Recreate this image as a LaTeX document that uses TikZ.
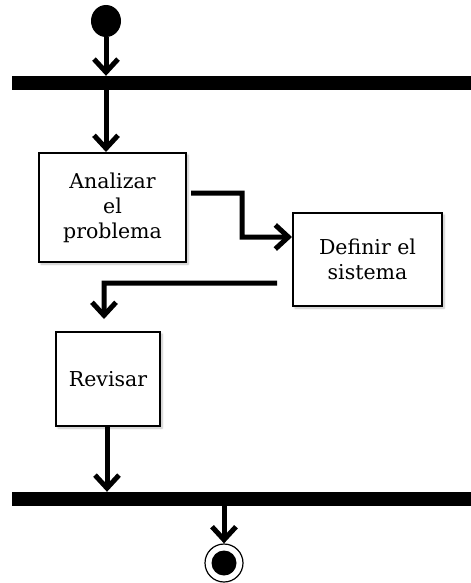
\documentclass[tikz,border=0pt]{standalone}
\usepackage{fontspec}
\setmainfont{DejaVu Serif}
\usetikzlibrary{arrows.meta,shadows.blur,shapes.geometric}
\begin{document}
\begin{tikzpicture}[x=1bp,y=-1bp,
  flow/.style={line width=5bp,line join=miter,
    -{Straight Barb[length=13bp,width=24bp,line width=5bp]}},
  actbox/.style={draw,line width=2bp,fill=white,
    blur shadow={shadow xshift=2bp,shadow yshift=-2bp,shadow opacity=25,shadow blur steps=6},
    align=center,font=\fontsize{20.5bp}{25bp}\selectfont,inner sep=0pt},
  syncbar/.style={fill=black,inner sep=0pt,minimum height=14bp,minimum width=459bp},
  ]
\useasboundingbox (0,0) rectangle (471,583);
% initial and final states
\node[ellipse,fill=black,minimum width=30bp,minimum height=32bp,inner sep=0pt] (start) at (106,21) {};
\node[circle,draw,line width=1.2bp,minimum size=38bp,inner sep=0pt] (end) at (224,563) {};
\node[circle,fill=black,minimum size=25bp,inner sep=0pt] (endin) at (224,563) {};
% fork / join bars
\node[syncbar] (bar1) at (241.5,83) {};
\node[syncbar] (bar2) at (241.5,499) {};
% activities
\node[actbox,minimum width=147bp,minimum height=109bp] (box1) at (112.5,207.5) {Analizar\\el\\problema};
\node[actbox,minimum width=149bp,minimum height=93bp] (box2) at (367.5,259.5) {Definir el\\sistema};
\node[actbox,minimum width=104bp,minimum height=94bp] (box3) at (108,379) {Revisar};
% transitions
\draw[flow] (start.south) -- (start.south |- bar1.north);
\draw[flow] (start.south |- bar1.south) -- (start.south |- box1.north);
\draw[flow] ([xshift=4bp,yshift=14.5bp]box1.east) -- (242,193) -- (242,237) -- ([yshift=22.5bp]box2.west);
\draw[flow] ([xshift=-15bp,yshift=-23.5bp]box2.west) -- (104,283) -- ([xshift=-4bp,yshift=12bp]box3.north);
\draw[flow] ([xshift=-1bp]box3.south) -- ([xshift=-1bp]box3.south |- bar2.north);
\draw[flow] (end.north |- bar2.south) -- (end.north);
\end{tikzpicture}
\end{document}
